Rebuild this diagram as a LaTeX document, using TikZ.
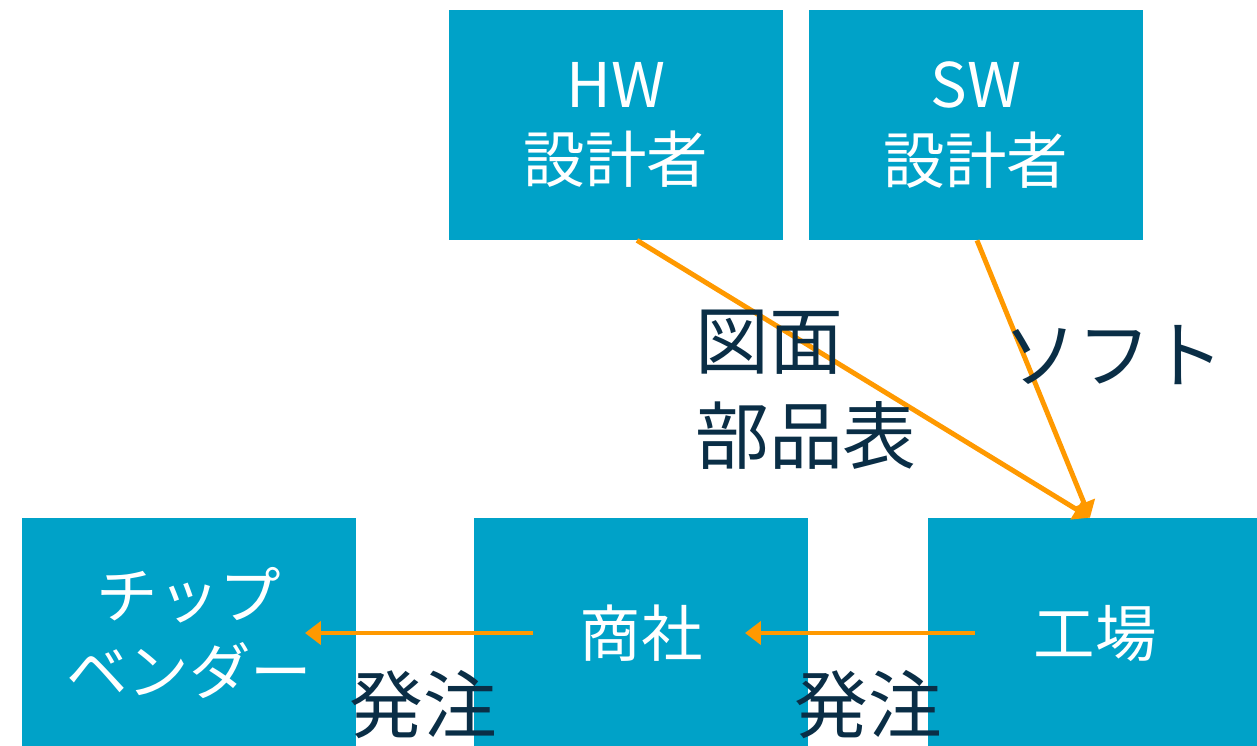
\documentclass[tikz,border=0pt]{standalone}
\usepackage{fontspec}
\setmainfont{Noto Sans CJK JP}
\usetikzlibrary{arrows.meta,calc}
\definecolor{boxblue}{RGB}{0,162,200}
\definecolor{arrorange}{RGB}{255,153,0}
\definecolor{labnavy}{RGB}{10,46,70}
\tikzset{
  px/.style={x=0.02cm,y=-0.02cm},
  bluebox/.style={fill=boxblue,draw=none,minimum width=334*0.02cm,minimum height=230*0.02cm,inner sep=0pt,text=white,align=center,font=\fontsize{35}{43}\selectfont},
  flow/.style={draw=arrorange,line width=2.8pt,-{Triangle[length=9pt,width=13pt]}},
  lab/.style={text=labnavy,font=\fontsize{42}{54}\selectfont,inner sep=0pt,align=left}
}
\begin{document}
\begin{tikzpicture}[px]
\useasboundingbox (0,0) rectangle (1257,745);
\clip (0,0) rectangle (1257,745);
\node[bluebox] (hw) at (616,125) {HW\\設計者};
\node[bluebox] (sw) at (976,125) {SW\\設計者};
\node[bluebox] (chip) at (189,633) {チップ\\ベンダー};
\node[bluebox] (trade) at (641,633) {商社};
\node[bluebox] (fab) at (1095,633) {工場};
\coordinate (hwout) at ($(hw.south)+(21,0)$);
\coordinate (swout) at ($(sw.south)+(1,0)$);
\coordinate (fabin) at ($(fab.north)+(-5,0)$);
\coordinate (fabout) at ($(fab.center)+(-120,0)$);
\coordinate (tradein) at ($(trade.center)+(104,0)$);
\coordinate (tradeout) at ($(trade.center)+(-108,0)$);
\coordinate (chipin) at ($(chip.center)+(116,0)$);
\draw[flow] (hwout) -- (fabin);
\draw[flow] (swout) -- (fabin);
\draw[flow] (fabout) -- (tradein);
\draw[flow] (tradeout) -- (chipin);
\node[lab,anchor=west] (drawing) at (695,390) {図面\\部品表};
\node[lab,anchor=west] (soft) at (1003,355) {ソフト};
\node[lab,anchor=west] (order1) at (349,705) {発注};
\node[lab,anchor=west] (order2) at (794,705) {発注};
\end{tikzpicture}
\end{document}
